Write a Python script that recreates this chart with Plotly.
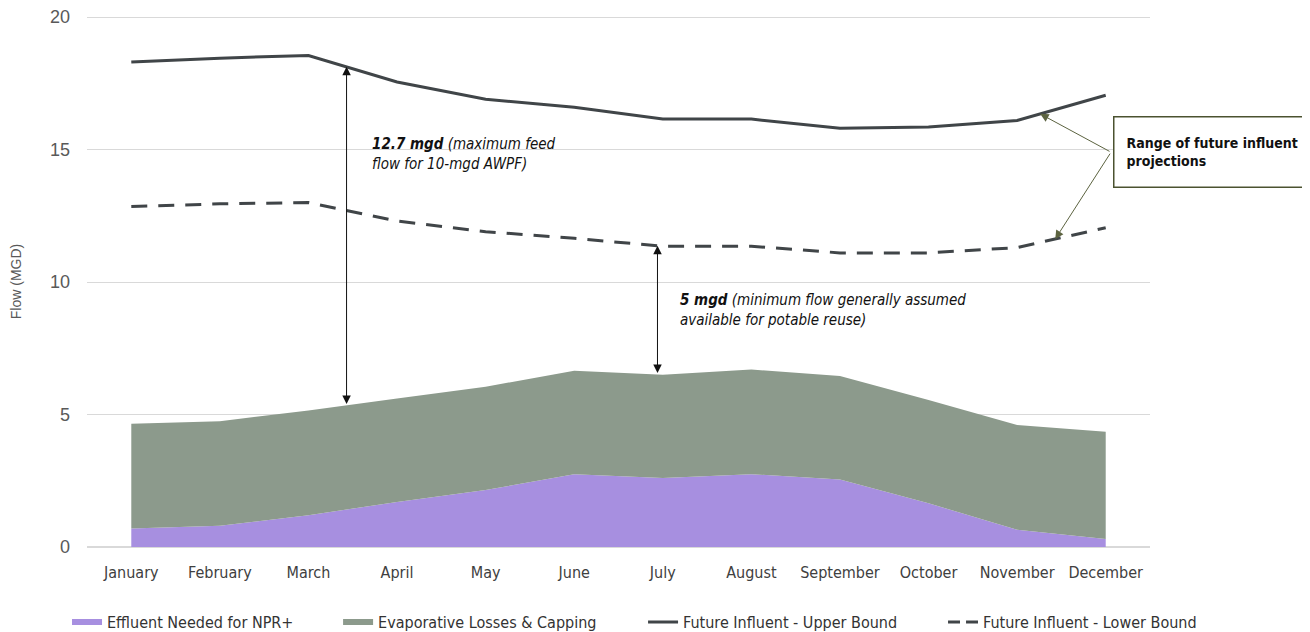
import numpy as np
import plotly.graph_objects as go

months = ["January", "February", "March", "April", "May", "June", "July",
          "August", "September", "October", "November", "December"]
effluent_npr = [0.7, 0.8, 1.2, 1.7, 2.15, 2.75, 2.6, 2.75, 2.55, 1.65, 0.65, 0.3]
evap_capping = [3.95, 3.95, 3.95, 3.9, 3.9, 3.9, 3.9, 3.95, 3.9, 3.9, 3.95, 4.05]
upper_bound = [18.3, 18.45, 18.55, 17.55, 16.9, 16.6, 16.15, 16.15, 15.8, 15.85, 16.1, 17.05]
lower_bound = [12.85, 12.95, 13.0, 12.3, 11.9, 11.65, 11.35, 11.35, 11.1, 11.1, 11.3, 12.05]
y_ticks = [0, 5, 10, 15, 20]

NARROW = "Liberation Sans Narrow, DejaVu Sans Condensed, Arial Narrow, sans-serif"
REG = "Liberation Sans, Arial, sans-serif"
LINE_COLOR = "#404548"

idx = np.arange(len(months))
stack_top = np.array(effluent_npr) + np.array(evap_capping)


def interp(series, xpos):
    return float(np.interp(xpos, idx, series))


fig = go.Figure()
fig.add_trace(go.Scatter(x=months, y=effluent_npr, name="Effluent Needed for NPR+",
                         stackgroup="a", mode="none", fillcolor="#a78fe0", legend="legend"))
fig.add_trace(go.Scatter(x=months, y=evap_capping, name="Evaporative Losses & Capping",
                         stackgroup="a", mode="none", fillcolor="#8c9a8c", legend="legend2"))
fig.add_trace(go.Scatter(x=months, y=upper_bound, name="Future Influent - Upper Bound",
                         mode="lines", line=dict(color=LINE_COLOR, width=3), legend="legend3"))
fig.add_trace(go.Scatter(x=months, y=lower_bound, name="Future Influent - Lower Bound",
                         mode="lines", line=dict(color=LINE_COLOR, width=3, dash="16px,11px"),
                         showlegend=False))
# legend entry for the dashed series (shorter dash pattern so the key shows two dashes)
fig.add_trace(go.Scatter(x=[months[0]], y=[None], name="Future Influent - Lower Bound",
                         mode="lines", line=dict(color=LINE_COLOR, width=3, dash="12px,6px"),
                         legend="legend4", hoverinfo="skip"))

# double-headed arrows
for xa, top in ((2.43, upper_bound), (5.94, lower_bound)):
    lo = interp(stack_top, xa)
    hi = interp(top, xa)
    fig.add_annotation(x=xa, y=hi, ax=xa, ay=lo, xref="x", yref="y", axref="x", ayref="y",
                       text="", showarrow=True, arrowhead=2, arrowsize=1.7, arrowwidth=1,
                       arrowside="end+start", arrowcolor="#111111", standoff=0, startstandoff=0)

fig.add_annotation(x=2.70, y=15.62, xref="x", yref="y", xanchor="left", yanchor="top",
                   text="<b><i>12.7 mgd</i></b><i> (maximum feed<br>flow for 10-mgd AWPF)</i>",
                   showarrow=False, align="left", font=dict(family=NARROW, size=15, color="#111111"))
fig.add_annotation(x=6.17, y=9.75, xref="x", yref="y", xanchor="left", yanchor="top",
                   text="<b><i>5 mgd</i></b><i> (minimum flow generally assumed<br>available for potable reuse)</i>",
                   showarrow=False, align="left", font=dict(family=NARROW, size=15, color="#111111"))

# callout box
box_x, box_y = 11.08, 14.9
fig.add_annotation(x=box_x, y=box_y, xref="x", yref="y", xanchor="left", yanchor="middle",
                   text="<b>Range of future influent<br>projections</b>", showarrow=False,
                   align="left", width=190, height=45, borderpad=12,
                   bordercolor="#4b5230", borderwidth=1.5, bgcolor="white",
                   font=dict(family=NARROW, size=14, color="#111111"))
for xt, series in ((10.26, upper_bound), (10.43, lower_bound)):
    fig.add_annotation(x=xt, y=interp(series, xt), ax=box_x - 0.02, ay=box_y,
                       xref="x", yref="y", axref="x", ayref="y", text="", showarrow=True,
                       arrowhead=2, arrowsize=1.7, arrowwidth=1, arrowcolor="#5c6340", standoff=0)

leg_font = dict(family=NARROW, size=16, color="#333333")
leg_common = dict(orientation="h", xanchor="left", y=-0.1415, yanchor="middle",
                  font=leg_font, bgcolor="rgba(0,0,0,0)")
fig.update_layout(
    width=1310, height=632,
    margin=dict(l=79, r=168, t=8, b=93, autoexpand=False),
    paper_bgcolor="white", plot_bgcolor="white",
    showlegend=True,
    legend=dict(x=-0.0188, **leg_common),
    legend2=dict(x=0.2362, **leg_common),
    legend3=dict(x=0.5231, **leg_common),
    legend4=dict(x=0.8053, **leg_common),
)
fig.update_xaxes(type="category", range=[-0.5, 11.5], showgrid=False, showline=False,
                 ticks="", ticklabelstandoff=14, automargin=False,
                 tickfont=dict(family=NARROW, size=16, color="#404040"))
fig.update_yaxes(range=[0, 20.04], tickvals=y_ticks, showgrid=True, gridcolor="#d9d9d9",
                 gridwidth=1, zeroline=True, zerolinecolor="#d9d9d9", showline=False,
                 ticks="", ticklabelstandoff=16, automargin=False, ticklabeloverflow="allow",
                 tickfont=dict(family=REG, size=18, color="#595959"),
                 title=dict(text="Flow (MGD)", font=dict(family=REG, size=14, color="#595959"),
                            standoff=28))

fig.write_html("out.html")
